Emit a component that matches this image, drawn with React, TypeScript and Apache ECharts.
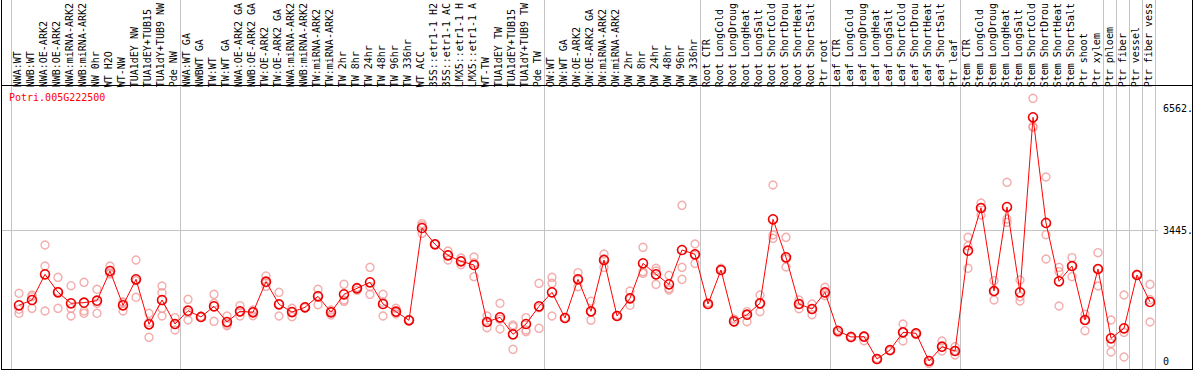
import React, { useEffect, useRef } from 'react';
import * as echarts from 'echarts';

const geneId = 'Potri.005G222500';

const categories = [
  'NWA:WT', 'NWB:WT', 'NWA:OE-ARK2', 'NWB:OE-ARK2', 'NWA:miRNA-ARK2', 'NWB:miRNA-ARK2', 'NW 0hr', 'WT H2O', 'WT-NW',
  'TUA1dEY NW', 'TUA1dEY+TUB15', 'TUA1dY+TUB9 NW', 'Pde NW',
  'NWA:WT GA', 'NWBWT GA', 'TW:WT', 'TW:WT GA', 'NWA:OE-ARK2 GA', 'NWB:OE-ARK2 GA', 'TW:OE-ARK2', 'TW:OE-ARK2 GA',
  'NWA:miRNA-ARK2', 'NWB:miRNA-ARK2', 'TW:miRNA-ARK2', 'TW:miRNA-ARK2 ', 'TW 2hr', 'TW 8hr', 'TW 24hr', 'TW 48hr',
  'TW 96hr', 'TW 336hr', 'WT ACC', '35S::etr1-1 H2', '35S::etr1-1 AC', 'LMX5::etr1-1 H', 'LMX5::etr1-1 A', 'WT-TW',
  'TUA1dEY TW', 'TUA1dEY+TUB15 ', 'TUA1dY+TUB9 TW', 'Pde TW',
  'OW:WT', 'OW:WT GA', 'OW:OE-ARK2', 'OW:OE-ARK2 GA', 'OW:miRNA-ARK2', 'OW:miRNA-ARK2 ', 'OW 2hr', 'OW 8hr',
  'OW 24hr', 'OW 48hr', 'OW 96hr', 'OW 336hr',
  'Root CTR', 'Root LongCold', 'Root LongDroug', 'Root LongHeat', 'Root LongSalt', 'Root ShortCold', 'Root ShortDrou',
  'Root ShortHeat', 'Root ShortSalt', 'Ptr root',
  'Leaf CTR', 'Leaf LongCold', 'Leaf LongDroug', 'Leaf LongHeat', 'Leaf LongSalt', 'Leaf ShortCold', 'Leaf ShortDrou',
  'Leaf ShortHeat', 'Leaf ShortSalt', 'Ptr leaf',
  'Stem CTR', 'Stem LongCold', 'Stem LongDroug', 'Stem LongHeat', 'Stem LongSalt', 'Stem ShortCold', 'Stem ShortDrou',
  'Stem ShortHeat', 'Stem ShortSalt', 'Ptr shoot', 'Ptr xylem',
  'Ptr phloem', 'Ptr fiber', 'Ptr vessel', 'Ptr fiber vess',
];

const means = [
  1560, 1690, 2319, 1878, 1609, 1624, 1673, 2400, 1560, 2196, 1094, 1690, 1102,
  1428, 1274, 1535, 1151, 1413, 1388, 2138, 1584, 1395, 1511, 1780, 1388, 1829, 1976, 2123, 1592, 1404,
  1192, 3453, 3053, 2784, 2637, 2547, 1151, 1266, 849, 1102, 1535,
  1878, 1249, 2196, 1413, 2669, 1298, 1731, 2588, 2319, 2074, 2914, 2809,
  1592, 2424, 1168, 1330, 1609, 3666, 2735, 1592, 1469, 1878,
  931, 784, 792, 245, 465, 898, 874, 196, 546, 441,
  2898, 3943, 1910, 3967, 1878, 6164, 3576, 2148, 2522, 1200, 2449,
  752, 996, 2302, 1641,
];

const replicates = [
  [1854, 1364, 1462], [1812, 1486, 1770], [3037, 2522, 1420], [2245, 1486, 1900], [2040, 1298, 1486],
  [2123, 1420, 1364], [1952, 1609, 1364], [2522, 2327, 2350], [1641, 1420, 1620], [2669, 1756, 2160],
  [1364, 776, 1140], [2033, 1869, 1486, 1298], [1257, 955, 1100],
  [1706, 1200, 1380], [1274, 1290], [1829, 1168, 1609], [1298, 1061, 1100], [1552, 1298, 1400],
  [1445, 1306, 1400], [2278, 2025, 2110], [1878, 1298, 1580], [1486, 1282, 1400], [1519, 1500],
  [1952, 1575, 1800], [1445, 1322, 1400], [2074, 1690, 1657], [2001, 1927, 1990], [2490, 2017, 1829],
  [1829, 1298, 1640], [1486, 1347, 1390], [1192, 1200], [3559, 3510, 3323], [3053, 3060],
  [2890, 2669, 2790], [2718, 2555, 2640], [2743, 2261, 2600], [1298, 1012, 1140], [1609, 980, 1220],
  [1078, 1037, 482], [1257, 955, 914], [2098, 996, 1500],
  [2245, 2098, 1298], [1249, 1260], [2359, 2017, 2200], [1660, 1196, 1400], [2816, 2490, 2700],
  [1298, 1310], [1910, 1560, 1720], [2980, 2383, 2343], [2466, 2074, 2400], [2294, 1976, 1935],
  [4008, 2490, 2196], [3061, 2588, 2780],
  [1624, 1580], [2466, 2424], [1225, 1150], [1404, 1159, 1330], [1812, 1404, 1600],
  [4506, 3282, 3200], [3225, 2498, 2700], [1690, 1478, 1590], [1592, 1330, 1470], [2000, 1796, 1860],
  [891, 950], [800, 770], [693, 800], [260, 230], [440, 470],
  [1102, 686, 900], [850, 880], [139, 200], [686, 441, 540], [546, 343, 450],
  [3225, 3013, 2466], [4065, 3772, 3950], [2163, 1690, 1900], [4572, 3674, 3592], [2180, 1772, 1665],
  [6629, 5919, 5944], [4702, 3289, 2694], [2490, 1543, 2384], [2727, 2261, 2520], [1339, 938, 1200],
  [2849, 2033, 2449],
  [1200, 629, 416], [1812, 898, 294], [2302, 2320], [2074, 1151, 1700],
];

// category index boundaries where grey group separators are drawn
const groupBounds = [0, 13, 41, 53, 63, 73, 84, 85, 86, 87, 88];
const refLineValue = 3445;
const yTickLabels = [6562, 3445, 0];
const yMax = 6955;

export default function App() {
  const ref = useRef<HTMLDivElement>(null);

  useEffect(() => {
    document.body.style.margin = '0';
    const chart = echarts.init(ref.current!, null, { renderer: 'svg' });
    const font = "'DejaVu Sans Mono', monospace";
    const repData: number[][] = [];
    replicates.forEach((r, i) => r.forEach((v) => repData.push([i, v])));

    chart.setOption({
      animation: false,
      backgroundColor: '#ffffff',
      grid: [
        { left: 11, top: 85, width: 1144, height: 284 },
        { left: 12.5, top: 85, width: 1144, height: 284 },
      ],
      xAxis: [
        {
          type: 'category', gridIndex: 0, position: 'top', data: categories, boundaryGap: true,
          axisLine: { show: false }, axisTick: { show: false }, splitLine: { show: false },
          axisLabel: { interval: 0, rotate: 90, margin: 3, fontSize: 10, fontFamily: font, color: '#000' },
        },
        { type: 'value', gridIndex: 0, min: 0, max: categories.length, show: false },
        { type: 'category', gridIndex: 1, data: categories, boundaryGap: true, show: false },
      ],
      yAxis: [
        { type: 'value', gridIndex: 0, min: 0, max: yMax, show: false },
        { type: 'value', gridIndex: 1, min: 0, max: yMax, show: false },
      ],
      series: [
        {
          type: 'custom', xAxisIndex: 1, yAxisIndex: 0, silent: true, z: 1,
          data: groupBounds.map((b) => [b]),
          renderItem: (params: any, api: any) => {
            const p = api.coord([api.value(0), 0]);
            const x = Math.floor(p[0]) + 0.5;
            return {
              type: 'line',
              shape: { x1: x, y1: 0, x2: x, y2: p[1] },
              style: { stroke: '#c4c4c4', lineWidth: 1 },
            };
          },
        },
        {
          type: 'custom', xAxisIndex: 1, yAxisIndex: 0, silent: true, z: 1,
          data: [[refLineValue]],
          renderItem: (params: any, api: any) => {
            const p = api.coord([0, api.value(0)]);
            const y = Math.floor(p[1]) + 0.5;
            return {
              type: 'line',
              shape: { x1: 1, y1: y, x2: 1158, y2: y },
              style: { stroke: '#c4c4c4', lineWidth: 1 },
            };
          },
        },
        {
          type: 'custom', xAxisIndex: 1, yAxisIndex: 0, silent: true, z: 4,
          data: yTickLabels.map((v) => [v]),
          renderItem: (params: any, api: any) => {
            const v = api.value(0);
            const p = api.coord([0, v]);
            const dy = v === 0 ? -8 : v === refLineValue ? 0 : 2.5;
            return {
              type: 'text',
              x: 1163, y: p[1] + dy,
              style: {
                text: v === 0 ? '0' : v + '.', fill: '#000', font: "10px 'DejaVu Sans Mono', monospace",
                align: 'left', verticalAlign: 'middle',
              },
            };
          },
        },
        {
          type: 'scatter', xAxisIndex: 2, yAxisIndex: 1, z: 2, silent: true,
          data: repData, symbol: 'circle', symbolSize: 8,
          itemStyle: { color: 'rgba(0,0,0,0)', borderColor: '#f09898', borderWidth: 1.4 },
        },
        {
          type: 'line', xAxisIndex: 2, yAxisIndex: 1, z: 3, silent: true,
          data: means, symbol: 'circle', symbolSize: 9, showAllSymbol: true,
          lineStyle: { color: '#ff0000', width: 1 },
          itemStyle: { color: 'rgba(0,0,0,0)', borderColor: '#ee0000', borderWidth: 1.6 },
        },
      ],
      graphic: [
        { type: 'line', shape: { x1: 1.5, y1: 0, x2: 1.5, y2: 370 }, style: { stroke: '#000', lineWidth: 1 }, z: 10 },
        { type: 'line', shape: { x1: 1192.5, y1: 0, x2: 1192.5, y2: 370 }, style: { stroke: '#000', lineWidth: 1 }, z: 10 },
        { type: 'line', shape: { x1: 1, y1: 85.5, x2: 1193, y2: 85.5 }, style: { stroke: '#000', lineWidth: 1 }, z: 10 },
        { type: 'line', shape: { x1: 1, y1: 369.5, x2: 1193, y2: 369.5 }, style: { stroke: '#000', lineWidth: 1 }, z: 10 },
        {
          type: 'text', left: 9, top: 92, z: 10,
          style: { text: geneId, fill: '#ff0000', font: "10px 'DejaVu Sans Mono', monospace" },
        },
      ],
    });

    return () => chart.dispose();
  }, []);

  return (
    <div
      ref={ref}
      style={{ position: 'absolute', left: 0, top: 0, width: 1194, height: 370 }}
    />
  );
}
